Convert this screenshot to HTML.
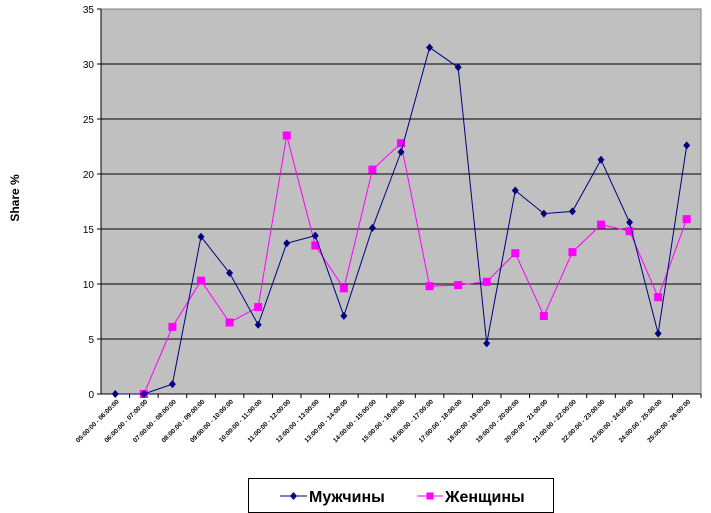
<!DOCTYPE html>
<html><head><meta charset="utf-8"><style>
body{margin:0;background:#fff;}
svg{display:block;font-family:"Liberation Sans",Arial,sans-serif;}
</style></head><body>
<svg id="chart" width="711" height="513" viewBox="0 0 711 513">
<rect x="101" y="9" width="600" height="385" fill="#C0C0C0" stroke="#808080" stroke-width="1"/>
<g id="grid"></g>
<g id="yticks"></g>
<g id="xticks"></g>
<text transform="translate(19,198) rotate(-90)" text-anchor="middle" font-size="12" font-weight="bold">Share %</text>
<g id="series"></g>
<g>
<rect x="248.5" y="478.5" width="305" height="34" fill="#fff" stroke="#000" stroke-width="1"/>
<g>
<line x1="280" y1="496" x2="307" y2="496" stroke="#000080" stroke-width="1"/>
<path d="M293.5 492 L297 496 L293.5 500 L290 496Z" fill="#000080"/>
<text x="309" y="502" font-size="16" font-weight="bold">Мужчины</text>
</g>
<g>
<line x1="417" y1="496" x2="443" y2="496" stroke="#FF00FF" stroke-width="1"/>
<rect x="426.5" y="492.5" width="7" height="7" fill="#FF00FF"/>
<text x="445" y="502" font-size="16" font-weight="bold">Женщины</text>
</g>
</g>
</svg>
<script>
const categories=["05:00:00 - 06:00:00","06:00:00 - 07:00:00","07:00:00 - 08:00:00","08:00:00 - 09:00:00","09:00:00 - 10:00:00","10:00:00 - 11:00:00","11:00:00 - 12:00:00","12:00:00 - 13:00:00","13:00:00 - 14:00:00","14:00:00 - 15:00:00","15:00:00 - 16:00:00","16:00:00 - 17:00:00","17:00:00 - 18:00:00","18:00:00 - 19:00:00","19:00:00 - 20:00:00","20:00:00 - 21:00:00","21:00:00 - 22:00:00","22:00:00 - 23:00:00","23:00:00 - 24:00:00","24:00:00 - 25:00:00","25:00:00 - 26:00:00"];
const men=[0,0,0.9,14.3,11.0,6.3,13.7,14.4,7.1,15.1,22.0,31.5,29.7,4.6,18.5,16.4,16.6,21.3,15.6,5.5,22.6];
const women=[null,0,6.1,10.3,6.5,7.9,23.5,13.5,9.6,20.4,22.8,9.8,9.9,10.2,12.8,7.1,12.9,15.4,14.8,8.8,15.9];
const yTicks=[0,5,10,15,20,25,30,35];
const NS="http://www.w3.org/2000/svg";
const L=101,R=701,T=9,B=394,YMAX=35;
function y(v){return B-(v/YMAX)*(B-T);}
function x(i){return L+(i+0.5)*(R-L)/categories.length;}
function mk(tag,attrs,parent){const e=document.createElementNS(NS,tag);for(const k in attrs)e.setAttribute(k,attrs[k]);parent.appendChild(e);return e;}
const grid=document.getElementById('grid'),yt=document.getElementById('yticks'),xt=document.getElementById('xticks'),ser=document.getElementById('series');
yTicks.forEach(v=>{
  if(v>0&&v<YMAX){const g=mk('line',{x1:L,x2:R,y1:y(v),y2:y(v),stroke:'#000','stroke-width':1},grid);
  
  }
  mk('line',{x1:L-4,x2:L,y1:y(v),y2:y(v),stroke:'#000'},yt);
  const t=mk('text',{x:L-7,y:y(v)+4,'text-anchor':'end','font-size':10},yt);
  
  
  t.textContent=v;
});
mk('line',{x1:L,x2:L,y1:T,y2:B,stroke:'#000'},yt);
mk('line',{x1:L,x2:R,y1:B,y2:B,stroke:'#000'},xt);
categories.forEach((c,i)=>{
  const tx=L+(i+1)*(R-L)/categories.length;
  mk('line',{x1:tx,x2:tx,y1:B,y2:B+4,stroke:'#000'},xt);
  const t=mk('text',{transform:`translate(${x(i)+4},${B+8}) rotate(-45)`,'text-anchor':'end','font-size':6.5,'font-weight':'bold'},xt);
  
  
  t.textContent=c;
});
function drawSeries(arr,color,shape,name){
  const pts=[];arr.forEach((v,i)=>{if(v!==null)pts.push(x(i)+','+y(v));});
  const p=mk('polyline',{points:pts.join(' '),fill:'none',stroke:color,'stroke-width':1},ser);
  
  
  arr.forEach((v,i)=>{if(v===null)return;let m;
    if(shape==='d')m=mk('path',{d:`M${x(i)} ${y(v)-4}L${x(i)+3.5} ${y(v)}L${x(i)} ${y(v)+4}L${x(i)-3.5} ${y(v)}Z`,fill:color},ser);
    else m=mk('rect',{x:x(i)-4,y:y(v)-4,width:8,height:8,fill:color},ser);
    
    
  });
}
drawSeries(women,'#FF00FF','s','women');
drawSeries(men,'#000080','d','men');
</script>
</body></html>
